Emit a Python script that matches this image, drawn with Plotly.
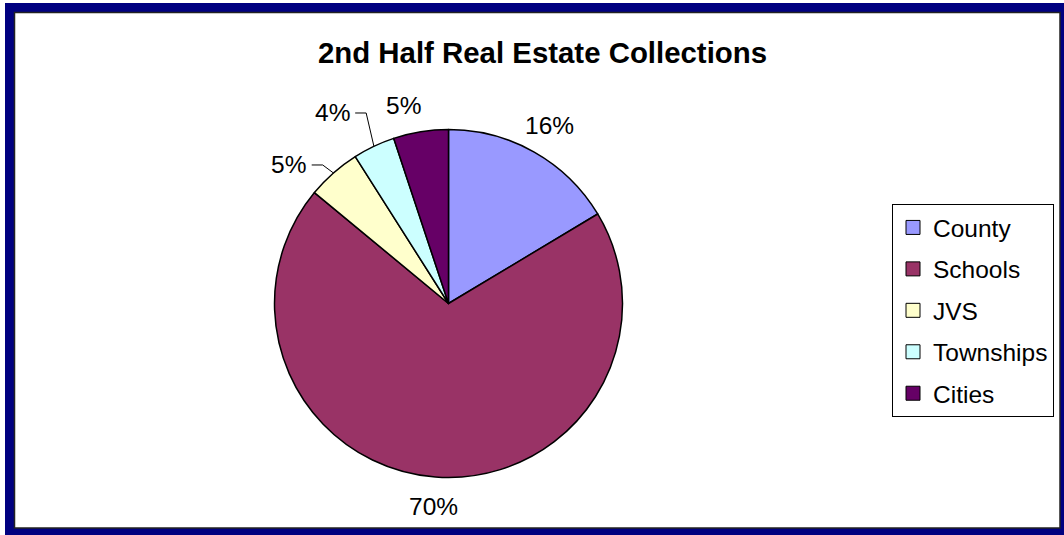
import math
import plotly.graph_objects as go

categories = ["County", "Schools", "JVS", "Townships", "Cities"]
values = [16.4, 69.6, 5.0, 3.9, 5.1]
colors = ["#9999FF", "#993366", "#FFFFCC", "#CCFFFF", "#660066"]
title_text = "2nd Half Real Estate Collections"

# ---- layout constants (pixels) ----
W, H = 1064, 535
CX, CY, R = 448.5, 303.5, 174.0       # pie centre and radius
R_LAB = 204.0                          # distance of label centres from pie centre
LAB_SIZE = 24.5
# manual label displacement (pixels) like the dragged labels of the original
label_nudge = {"JVS": (-24.6, 14.5), "Townships": (-28.6, -6.2), "Cities": (-12.0, 3.0)}
leader_for = {"JVS", "Townships"}
FONT = "Liberation Sans, Arial"


def px(x):
    return x / W


def py(y):
    return 1 - y / H


fig = go.Figure()
fig.add_trace(go.Pie(
    labels=categories,
    values=values,
    sort=False,
    direction="clockwise",
    rotation=0,
    marker=dict(colors=colors, line=dict(color="black", width=1.5)),
    textinfo="none",
    domain=dict(x=[px(CX - R), px(CX + R)], y=[py(CY + R), py(CY - R)]),
    hoverinfo="label+percent",
    showlegend=False,
))

# legend entries (one per slice, same colours)
for cat, col in zip(categories, colors):
    fig.add_trace(go.Scatter(
        x=[None], y=[None], mode="markers", name=cat, legendgroup=cat,
        marker=dict(symbol="square", size=14, color=col, line=dict(color="black", width=1)),
        hoverinfo="skip",
    ))

# percentage labels computed from the data
annotations = []
shapes = [
    dict(type="rect", xref="paper", yref="paper", layer="below",
         x0=px(5), x1=px(1080), y0=py(550), y1=py(3),
         fillcolor="#000080", line=dict(width=0)),
    dict(type="rect", xref="paper", yref="paper", layer="below",
         x0=px(14.5), x1=px(1060), y0=py(528), y1=py(12.5),
         fillcolor="white", line=dict(color="#222222", width=1.5)),
]
total = sum(values)
cum = 0.0
for cat, v in zip(categories, values):
    mid = (cum + v / 2) / total * 2 * math.pi
    cum += v
    sx, sy = math.sin(mid), -math.cos(mid)
    nx, ny = label_nudge.get(cat, (0.0, 0.0))
    lx = CX + R_LAB * sx + nx
    ly = CY + R_LAB * sy + ny
    txt = f"{round(v / total * 100)}%"
    annotations.append(dict(
        text=txt, x=px(lx), y=py(ly), xref="paper", yref="paper",
        xanchor="center", yanchor="middle", showarrow=False,
        font=dict(size=LAB_SIZE, family=FONT, color="black"),
    ))
    if cat in leader_for:
        half_w = 0.7225 * LAB_SIZE * len(txt) / 2
        right = lx + half_w
        ex, ey = CX + R * sx, CY + R * sy
        shapes.append(dict(
            type="path", xref="paper", yref="paper",
            path=f"M {px(right + 5)} {py(ly)} L {px(right + 16)} {py(ly)} L {px(ex)} {py(ey)}",
            line=dict(color="black", width=1),
        ))

fig.update_layout(
    width=W, height=H,
    margin=dict(l=0, r=0, t=0, b=0),
    paper_bgcolor="white",
    plot_bgcolor="rgba(0,0,0,0)",
    font=dict(family=FONT, color="black"),
    xaxis=dict(visible=False),
    yaxis=dict(visible=False),
    title=dict(text="<b>" + title_text + "</b>", x=px(542.5), y=py(53),
               xanchor="center", yanchor="middle",
               font=dict(size=29.4, family=FONT, color="black")),
    legend=dict(x=px(892), y=py(204), xanchor="left", yanchor="top",
                traceorder="grouped", tracegroupgap=6.6,
                bordercolor="black", borderwidth=1, bgcolor="white",
                font=dict(size=24.5, family=FONT, color="black")),
    annotations=annotations,
    shapes=shapes,
)

fig.write_html("out.html")
